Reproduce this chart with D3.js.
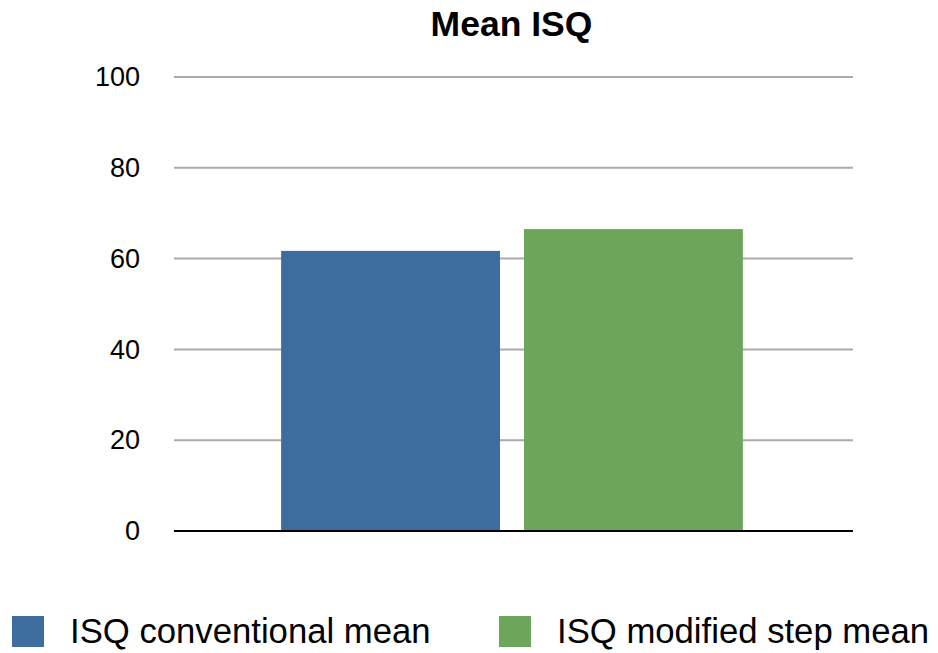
<!DOCTYPE html>
<html>
<head>
<meta charset="utf-8">
<script src="https://cdn.jsdelivr.net/npm/d3@7"></script>
<style>
  body { margin: 0; background: #fff; }
  svg { display: block; font-family: "Liberation Sans", Arial, Helvetica, sans-serif; }
</style>
</head>
<body>
<svg id="chart" width="938" height="653"></svg>
<script>
// Mean ISQ by technique
const groups = ["Mean ISQ"];
const seriesNames = ["ISQ conventional mean", "ISQ modified step mean"];
const seriesValues = [61.7, 66.5];
const seriesColors = ["#3d6d9e", "#6da55b"];
const yTicks = [0, 20, 40, 60, 80, 100];

const svg = d3.select("#chart");
const margin = { left: 174, right: 85, top: 77, bottom: 122 };
const W = 938, H = 653;
const plotW = W - margin.left - margin.right;
const plotH = H - margin.top - margin.bottom;

const g = svg.append("g").attr("transform", `translate(${margin.left},${margin.top})`);

const y = d3.scaleLinear().domain([0, 100]).range([plotH, 0]);
const x0 = d3.scaleBand().domain(groups).range([0, plotW - 3]).paddingInner(0).paddingOuter(0.232);
const x1 = d3.scaleBand().domain(seriesNames).range([0, x0.bandwidth()]).paddingInner(0.099).paddingOuter(0);

// gridlines
g.selectAll("line.grid").data(yTicks.filter(t => t > 0)).join("line")
  .attr("class", "grid")
  .attr("x1", 0).attr("x2", plotW)
  .attr("y1", d => y(d)).attr("y2", d => y(d))
  .attr("stroke", "#aaaaaa").attr("stroke-width", 2);

// y axis labels
const yAxis = d3.axisLeft(y).tickValues(yTicks).tickSize(0).tickPadding(34);
const ya = g.append("g").call(yAxis);
ya.select(".domain").remove();
ya.attr("font-size", null).attr("font-family", null);
ya.selectAll("text")
  .style("font-size", "27px").attr("fill", "#000")
  .style("font-family", "'Liberation Sans', Arial, sans-serif");

// bars
const grp = g.selectAll("g.group").data(groups).join("g")
  .attr("class", "group")
  .attr("transform", d => `translate(${x0(d)},0)`);
grp.selectAll("rect").data(seriesNames.map((n, i) => ({ n, v: seriesValues[i], c: seriesColors[i] }))).join("rect")
  .attr("x", d => x1(d.n))
  .attr("width", x1.bandwidth())
  .attr("y", d => y(d.v))
  .attr("height", d => plotH - y(d.v))
  .attr("fill", d => d.c);

// baseline
g.append("line")
  .attr("x1", 0).attr("x2", plotW)
  .attr("y1", y(0)).attr("y2", y(0))
  .attr("stroke", "#000").attr("stroke-width", 2);

// title
svg.append("text")
  .attr("x", margin.left + plotW / 2 - 2).attr("y", 36)
  .attr("text-anchor", "middle")
  .style("font-size", "35.5px").attr("font-weight", "bold")
  .text(groups[0]);

// legend
const legendX = [12, 499];
const lg = svg.selectAll("g.legend").data(seriesNames).join("g")
  .attr("class", "legend")
  .attr("transform", (d, i) => `translate(${legendX[i]},616)`);
lg.append("rect").attr("width", 32).attr("height", 31)
  .attr("fill", (d, i) => seriesColors[i]);
lg.append("text").attr("x", 58).attr("y", 27)
  .style("font-size", "34.7px").attr("fill", "#000")
  .text(d => d);
</script>
</body>
</html>
